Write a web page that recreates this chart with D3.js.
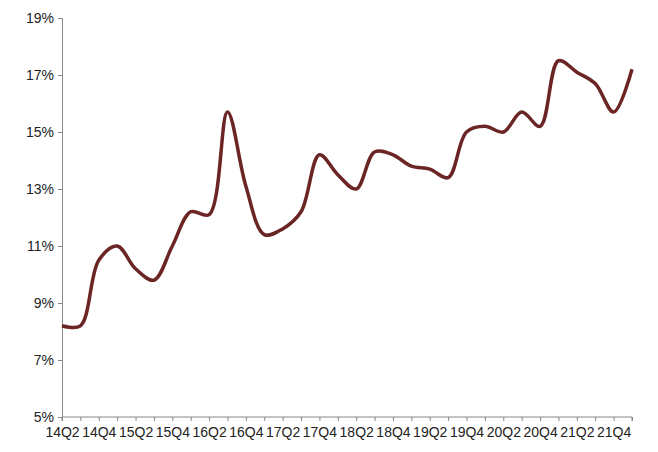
<!DOCTYPE html>
<html><head><meta charset="utf-8">
<script src="https://cdn.jsdelivr.net/npm/d3@7"></script>
<style>body{margin:0;background:#fff}</style>
</head><body><svg id="chart" width="658" height="452"></svg>
<script>
var quarters = [];
for (var yr = 14; yr <= 22; yr++) for (var q = 1; q <= 4; q++) quarters.push(yr + 'Q' + q);
var categories = quarters.slice(1, 33); // 14Q2 .. 22Q1
var values = [8.2, 8.2, 10.5, 11.0, 10.2, 9.8, 11.0, 12.2, 12.1, 15.7, 13.1, 11.4, 11.6, 12.2, 14.2, 13.5,
              13.0, 14.3, 14.2, 13.8, 13.7, 13.4, 15.0, 15.2, 15.0, 15.7, 15.2, 17.5, 17.1, 16.7, 15.7, 17.2];
var yTicks = [5, 7, 9, 11, 13, 15, 17, 19];

var svg = d3.select('#chart');
var mLeft = 62, mRight = 632, mTop = 18, mBottom = 417;

var x = d3.scalePoint().domain(categories).range([mLeft, mRight]);
var yS = d3.scaleLinear().domain([5, 19]).range([mBottom, mTop]);

var font = 'Liberation Sans Narrow, Arial Narrow, Liberation Sans, sans-serif';

// y axis
var ya = svg.append('g').attr('transform', 'translate(' + mLeft + ',0)')
    .call(d3.axisLeft(yS).tickValues(yTicks).tickSize(4).tickFormat(function(d) { return d + '%'; }));
ya.selectAll('path,line').attr('stroke', '#888');
ya.selectAll('text').attr('font-family', font)
    .attr('font-size', 14).attr('fill', '#222').attr('dx', -1);

// x axis
var xa = svg.append('g').attr('transform', 'translate(0,' + mBottom + ')')
    .call(d3.axisBottom(x).tickSize(4)
        .tickFormat(function(d, i) { return i % 2 === 0 ? d : ''; }));
xa.select('.domain').attr('d', 'M' + mLeft + ',4V0H' + mRight + 'V4');
xa.selectAll('path,line').attr('stroke', '#888');
xa.selectAll('text').attr('font-family', font)
    .attr('font-size', 14).attr('fill', '#222').attr('dy', '0.9em');

var line = d3.line()
    .x(function(d, i) { return x(categories[i]); })
    .y(function(d) { return yS(d); })
    .curve(d3.curveCatmullRom.alpha(0.5));

svg.append('path').datum(values)
    .attr('d', line).attr('fill', 'none')
    .attr('stroke', '#6b2525').attr('stroke-width', 3.5);
</script></body></html>
